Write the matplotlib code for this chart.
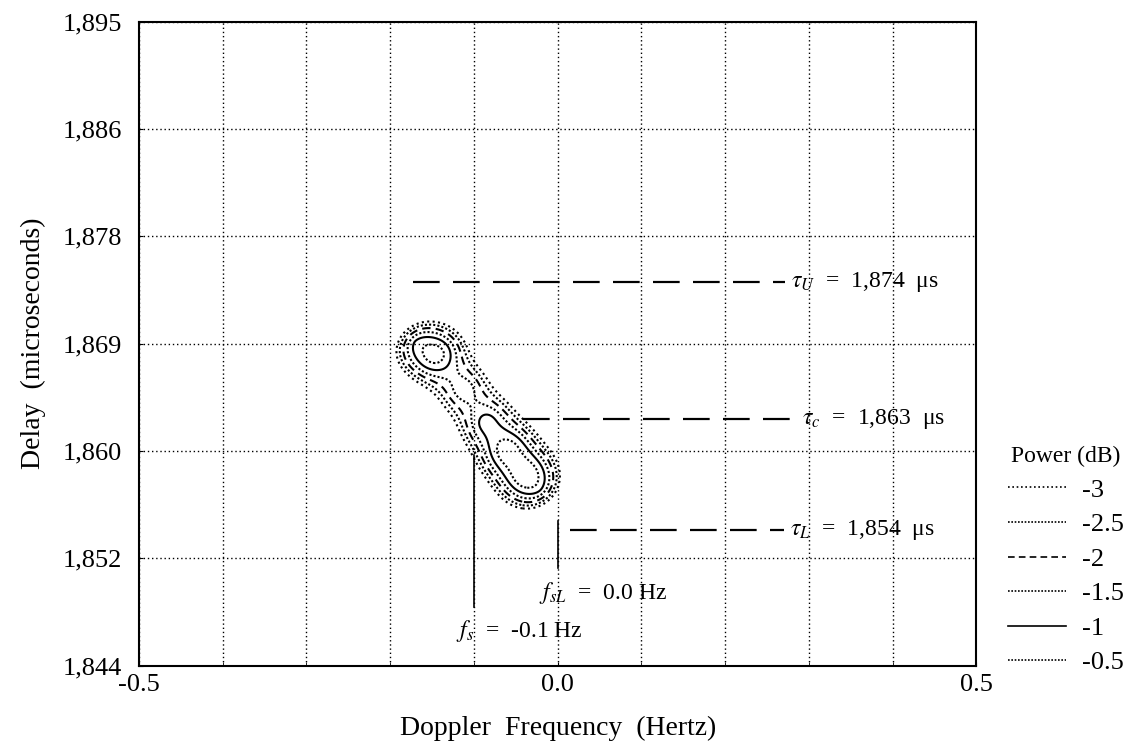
import numpy as np
import matplotlib
matplotlib.use('Agg')
import matplotlib.pyplot as plt
from matplotlib.lines import Line2D

plt.rcParams['font.family'] = ['Liberation Serif', 'DejaVu Serif']
plt.rcParams['mathtext.fontset'] = 'stix'

# axis data
y_tick_labels = ['1,844', '1,852', '1,860', '1,869', '1,878', '1,886', '1,895']
x_tick_vals = [-0.5, 0.0, 0.5]
x_tick_labels = ['-0.5', '0.0', '0.5']

# ambiguity peaks (Doppler Hz, delay us, relative power)
peak_f = [-0.170, -0.143, -0.112, -0.086, -0.061, -0.038, -0.022]
peak_d = [1869.2, 1868.1, 1865.4, 1862.8, 1860.5, 1858.4, 1857.3]
peak_a = [0.80, 1.00, 0.82, 0.86, 0.98, 0.82, 0.70]

levels = [-3, -2.5, -2, -1.5, -1, -0.5]
level_styles = [(0, (1, 1.6)), (0, (1, 1.0)), (0, (4, 2.5)), (0, (1, 1.0)), 'solid', (0, (1, 1.0))]
level_labels = ['-3', '-2.5', '-2', '-1.5', '-1', '-0.5']

# delay / doppler markers
tau_vals = [1874, 1863, 1854]
tau_names = ['U', 'c', 'L']
tau_start = [-0.173, -0.041, 0.015]
tau_end = [0.272, 0.285, 0.270]

fs_val = -0.1
fsL_val = 0.0

fig = plt.figure(figsize=(11.3, 7.48), dpi=100)
ax = fig.add_axes([0.123, 0.110, 0.741, 0.861])

# power surface on a grid, in pixel-like units so the ridge keeps its tilt
fx = np.linspace(-0.3, 0.1, 500)
dy = np.linspace(1850, 1876, 500)
FX, DY = np.meshgrid(fx, dy)
U = FX * 837.0
V = -DY * 12.4
ang = np.arctan2(195.0, 165.0)
ca, sa = np.cos(ang), np.sin(ang)
P = np.zeros_like(FX)
for f0, d0, a in zip(peak_f, peak_d, peak_a):
    du = U - f0 * 837.0
    dv = V + d0 * 12.4
    along = du * ca + dv * sa
    perp = -du * sa + dv * ca
    r = np.sqrt((along / 30.0) ** 2 + (perp / 39.0) ** 2)
    P += a * np.exp(-r ** 1.6)
PdB = 10 * np.log10(P / P.max() + 1e-12)

ax.contour(FX, DY, PdB, levels=levels, colors='black',
           linestyles=level_styles, linewidths=1.5)

for t, n, x0, x1 in zip(tau_vals, tau_names, tau_start, tau_end):
    ax.plot([x0, x1], [t, t], color='black', lw=1.6, dashes=(12, 6))
    ax.text(x1 + 0.007, t, r'$\tau_{%s}$  =  1,%s  μs' % (n, str(t)[1:]),
            fontsize=17, va='center', ha='left')

ax.plot([fs_val, fs_val], [1860.1, 1847.8], color='black', lw=1.2)
ax.plot([fsL_val, fsL_val], [1854.8, 1851.0], color='black', lw=1.2)
ax.text(-0.121, 1845.9, r'$f_s$  =  -0.1 Hz', fontsize=17, va='center', ha='left')
ax.text(-0.022, 1849.0, r'$f_{sL}$  =  0.0 Hz', fontsize=17, va='center', ha='left')

ax.set_xlim(-0.5, 0.5)
ax.set_ylim(1843.1, 1895)
yt = np.linspace(1843.1, 1895, 7)
ax.set_yticks(yt)
ax.set_yticklabels(y_tick_labels)
ax.set_xticks(x_tick_vals)
ax.set_xticklabels(x_tick_labels)
ax.set_xticks(np.arange(-0.4, 0.45, 0.1), minor=True)
ax.grid(True, which='both', color='black', linestyle=(0, (1, 2)), linewidth=1.0)
ax.tick_params(axis='both', which='both', direction='in', length=3, labelsize=19, pad=6)
ax.tick_params(axis='y', pad=12)
for s in ax.spines.values():
    s.set_linewidth(1.5)

ax.set_xlabel('Doppler  Frequency  (Hertz)', fontsize=20, labelpad=14)
ax.set_ylabel('Delay  (microseconds)', fontsize=20, labelpad=12)

handles = [Line2D([], [], color='black', lw=1.2, linestyle=ls) for ls in level_styles]
fig.legend(handles, level_labels, title='Power (dB)', loc='upper left',
           bbox_to_anchor=(0.878, 0.425), frameon=False, fontsize=19,
           title_fontsize=17, handlelength=2.2, labelspacing=0.42,
           handletextpad=0.6, borderaxespad=0.2)

fig.savefig('out.png', dpi=100)
